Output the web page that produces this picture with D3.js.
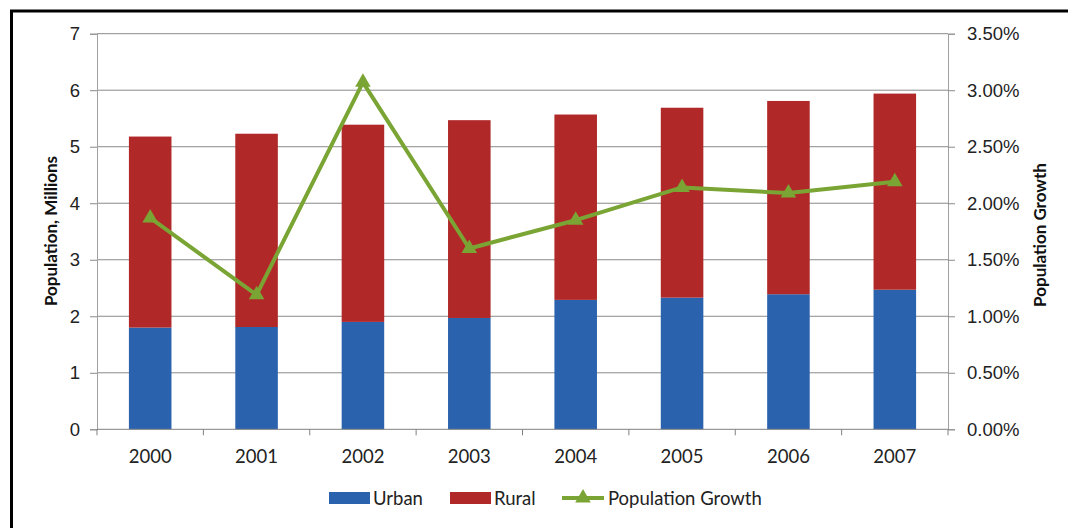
<!DOCTYPE html>
<html>
<head>
<meta charset="utf-8">
<script src="https://cdn.jsdelivr.net/npm/d3@7"></script>
<style>
  body { margin: 0; background: #fff; }
  svg { display: block; font-family: Lato, "Open Sans", sans-serif; }
</style>
</head>
<body>
<div id="container"></div>
<script>
const years = ["2000", "2001", "2002", "2003", "2004", "2005", "2006", "2007"];
const urban = [1.80, 1.81, 1.90, 1.97, 2.29, 2.33, 2.39, 2.47];
const rural = [3.38, 3.42, 3.49, 3.50, 3.28, 3.36, 3.42, 3.47];
const growth = [0.0187, 0.0119, 0.0307, 0.0160, 0.0185, 0.0214, 0.0209, 0.0219];
const leftTicks = [0, 1, 2, 3, 4, 5, 6, 7];
const rightTicks = [0, 0.005, 0.01, 0.015, 0.02, 0.025, 0.03, 0.035];

const width = 1068, height = 528;
const margin = {left: 97, right: 120, top: 33.7, bottom: 98.7};

const svg = d3.select("#container")
  .append("svg")
  .attr("width", width)
  .attr("height", height);

// outer frame (runs off the right and bottom edges)
svg.append("rect")
  .attr("x", 11.5).attr("y", 11)
  .attr("width", 1100).attr("height", 600)
  .attr("fill", "none")
  .attr("stroke", "#000")
  .attr("stroke-width", 3);

const x = d3.scaleBand()
  .domain(years)
  .range([margin.left, width - margin.right])
  .paddingInner(0.6)
  .paddingOuter(0.3);

const xOuter = d3.scaleBand()
  .domain(years)
  .range([margin.left, width - margin.right]);

const y = d3.scaleLinear()
  .domain([0, 7])
  .range([height - margin.bottom, margin.top]);

const y2 = d3.scaleLinear()
  .domain([0, 0.035])
  .range([height - margin.bottom, margin.top]);

// gridlines
svg.append("g")
  .selectAll("line")
  .data(leftTicks.slice(1))
  .join("line")
  .attr("x1", margin.left).attr("x2", width - margin.right)
  .attr("y1", d => y(d)).attr("y2", d => y(d))
  .attr("stroke", "#8a8a8a")
  .attr("stroke-width", 1);

// stacked bars
const stack = d3.stack().keys(["urban", "rural"]);
const rows = years.map((yr, i) => ({year: yr, urban: urban[i], rural: rural[i]}));
const series = stack(rows);
const colors = {urban: "#2b62ae", rural: "#b12828"};

svg.append("g")
  .selectAll("g")
  .data(series)
  .join("g")
  .attr("fill", d => colors[d.key])
  .selectAll("rect")
  .data(d => d)
  .join("rect")
  .attr("x", d => x(d.data.year))
  .attr("width", x.bandwidth())
  .attr("y", d => y(d[1]))
  .attr("height", d => y(d[0]) - y(d[1]));

// left axis
const leftAxis = svg.append("g")
  .attr("transform", `translate(${margin.left},0)`)
  .call(d3.axisLeft(y).tickValues(leftTicks).tickSize(7).tickPadding(10).tickFormat(d3.format("d")));
leftAxis.select(".domain").attr("stroke", "#a0a0a0");
leftAxis.selectAll(".tick line").attr("stroke", "#8a8a8a");
leftAxis.selectAll("text").attr("font-size", 18.5).attr("fill", "#222");

// right axis
const rightAxis = svg.append("g")
  .attr("transform", `translate(${width - margin.right},0)`)
  .call(d3.axisRight(y2).tickValues(rightTicks).tickSize(7).tickPadding(12).tickFormat(d3.format(".2%")));
rightAxis.select(".domain").attr("stroke", "#a0a0a0");
rightAxis.selectAll(".tick line").attr("stroke", "#8a8a8a");
rightAxis.selectAll("text").attr("font-size", 18.5).attr("fill", "#222");

// bottom axis
const baseY = height - margin.bottom;
const bottom = svg.append("g");
bottom.append("line")
  .attr("x1", margin.left).attr("x2", width - margin.right)
  .attr("y1", baseY).attr("y2", baseY)
  .attr("stroke", "#808080");
bottom.selectAll("line.tk")
  .data(years.concat(["end"]))
  .join("line")
  .attr("class", "tk")
  .attr("x1", (d, i) => margin.left + i * xOuter.step())
  .attr("x2", (d, i) => margin.left + i * xOuter.step())
  .attr("y1", baseY).attr("y2", baseY + 6)
  .attr("stroke", "#808080");
bottom.selectAll("text")
  .data(years)
  .join("text")
  .attr("x", d => x(d) + x.bandwidth() / 2)
  .attr("y", baseY + 34)
  .attr("text-anchor", "middle")
  .attr("font-size", 18.5)
  .attr("fill", "#222")
  .text(d => d);

// growth line
const line = d3.line()
  .x((d, i) => x(years[i]) + x.bandwidth() / 2)
  .y(d => y2(d));

svg.append("path")
  .datum(growth)
  .attr("d", line)
  .attr("fill", "none")
  .attr("stroke", "#7aa534")
  .attr("stroke-width", 4)
  .attr("stroke-linejoin", "round");

const tri = d3.symbol().type(d3.symbolTriangle).size(105);
svg.append("g")
  .selectAll("path")
  .data(growth)
  .join("path")
  .attr("d", tri)
  .attr("transform", (d, i) => `translate(${x(years[i]) + x.bandwidth() / 2},${y2(d)})`)
  .attr("fill", "#7aa534");

// axis titles
svg.append("text")
  .attr("transform", `translate(57,231) rotate(-90)`)
  .attr("text-anchor", "middle")
  .attr("font-size", 17)
  .attr("font-weight", "bold")
  .attr("fill", "#111")
  .text("Population, Millions");

svg.append("text")
  .attr("transform", `translate(1046,235) rotate(-90)`)
  .attr("text-anchor", "middle")
  .attr("font-size", 17)
  .attr("font-weight", "bold")
  .attr("fill", "#111")
  .text("Population Growth");

// legend
const legendItems = [
  {name: "Urban", type: "rect", color: colors.urban, x: 329},
  {name: "Rural", type: "rect", color: colors.rural, x: 450},
  {name: "Population Growth", type: "line", color: "#7aa534", x: 562}
];
const legY = 498;
const lg = svg.append("g");
legendItems.forEach(item => {
  if (item.type === "rect") {
    lg.append("rect")
      .attr("x", item.x).attr("y", legY - 6)
      .attr("width", 41).attr("height", 12)
      .attr("fill", item.color);
  } else {
    lg.append("line")
      .attr("x1", item.x).attr("x2", item.x + 42)
      .attr("y1", legY).attr("y2", legY)
      .attr("stroke", item.color).attr("stroke-width", 4);
    lg.append("path")
      .attr("d", tri)
      .attr("transform", `translate(${item.x + 21},${legY})`)
      .attr("fill", item.color);
  }
  lg.append("text")
    .attr("x", item.x + (item.type === "rect" ? 44 : 46))
    .attr("y", legY + 6.5)
    .attr("font-size", 18.5)
    .attr("fill", "#222")
    .text(item.name);
});
</script>
</body>
</html>
